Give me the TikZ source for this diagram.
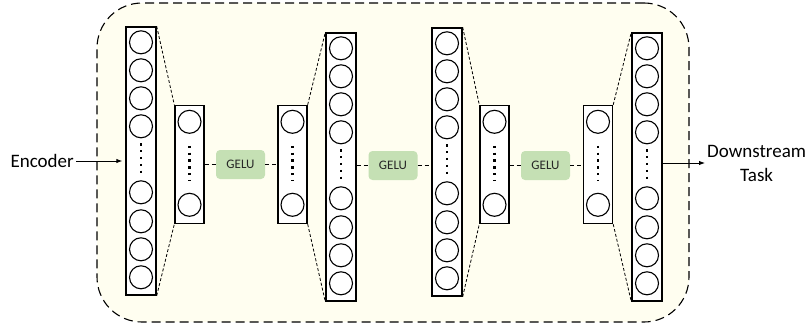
\documentclass[tikz,border=0pt]{standalone}
\usepackage{fontspec}
\setmainfont{Carlito}
\usetikzlibrary{arrows.meta}

\definecolor{panel}{RGB}{255,254,240}
\definecolor{gelugreen}{RGB}{197,224,180}

\tikzset{
  frame/.style={draw,fill=panel,line width=1.1pt,dash pattern=on 9pt off 5pt,rounded corners=45pt,inner sep=0pt},
  layer/.style={draw,line width=1.4pt,fill=white,minimum width=30pt,inner sep=0pt},
  neuron/.style={draw,circle,line width=1.1pt,minimum size=23pt,inner sep=0pt},
  act/.style={fill=gelugreen,rounded corners=4pt,minimum width=49pt,minimum height=29pt,inner sep=0pt,font=\fontsize{13}{15}\selectfont,text=black!85},
  link/.style={dash pattern=on 4pt off 3pt,line width=1.1pt},
  fan/.style={dash pattern=on 3pt off 2pt,line width=0.8pt},
  dotcol/.style={line width=2.3pt,dash pattern=on 2.3pt off 4.5pt},
  label/.style={font=\fontsize{19}{24}\selectfont,inner sep=2pt}
}

\begin{document}
\begin{tikzpicture}[x=1pt,y=-1pt]
\useasboundingbox (0,0) rectangle (811,329);

% Projection head box
\node[frame,minimum width=592pt,minimum height=319pt] (box) at (393,162.5) {};

% Wide layers
\foreach \l/\x/\y in {L1/141/161, L2/341/167, L3/447/162, L4/647/167} {
  \node[layer,minimum height=268pt] (\l) at (\x,\y) {};
  \foreach \k/\d in {1/16,2/44,3/72,4/100,5/166,6/195,7/223,8/251}
    \node[neuron] (\l-\k) at ([yshift=-\d pt]\l.north) {};
  \draw[dotcol] ([yshift=-5pt]\l-4.south) -- ([yshift=4pt]\l-5.north);
}

% Narrow layers
\foreach \s/\x in {S1/189.5, S2/292.5, S3/494.5, S4/598} {
  \node[layer,minimum width=29pt,minimum height=118pt] (\s) at (\x,164.5) {};
  \node[neuron] (\s-1) at ([yshift=-17pt]\s.north) {};
  \node[neuron] (\s-2) at ([yshift=-100pt]\s.north) {};
  \draw[dotcol] ([yshift=-12pt]\s-1.south) -- ([yshift=12pt]\s-2.north);
}

% Fan lines
\draw[fan] (L1.north east) -- (S1.north west);
\draw[fan] (L1.south east) -- (S1.south west);
\draw[fan] (S2.north east) -- (L2.north west);
\draw[fan] (S2.south east) -- (L2.south west);
\draw[fan] (L3.north east) -- (S3.north west);
\draw[fan] (L3.south east) -- (S3.south west);
\draw[fan] (S4.north east) -- (L4.north west);
\draw[fan] (S4.south east) -- (L4.south west);

% Activations
\node[act] (G1) at (240.5,164.5) {GELU};
\node[act] (G2) at (393,165.5) {GELU};
\node[act] (G3) at (545.5,165.5) {GELU};

\draw[link] (S1.east |- G1.west) -- (G1.west);
\draw[link] (G1.east) -- (G1.east -| S2.west);
\draw[link] (L2.east |- G2.west) -- (G2.west);
\draw[link] (G2.east) -- (G2.east -| L3.west);
\draw[link] (S3.east |- G3.west) -- (G3.west);
\draw[link] (G3.east) -- (G3.east -| S4.west);

% Input and output
\node[label,anchor=east] (enc) at (76,161) {Encoder};
\node[label,anchor=west,align=center] (task) at (705,163) {Downstream\\Task};

\draw[-{Latex[length=6pt,width=4.5pt]},line width=0.9pt,shorten >=3pt] (enc.east) -- (enc.east -| L1.west);
\draw[-{Latex[length=6pt,width=4.5pt]},line width=0.9pt] (L4.east |- task.west) -- (task.west);
\end{tikzpicture}
\end{document}
